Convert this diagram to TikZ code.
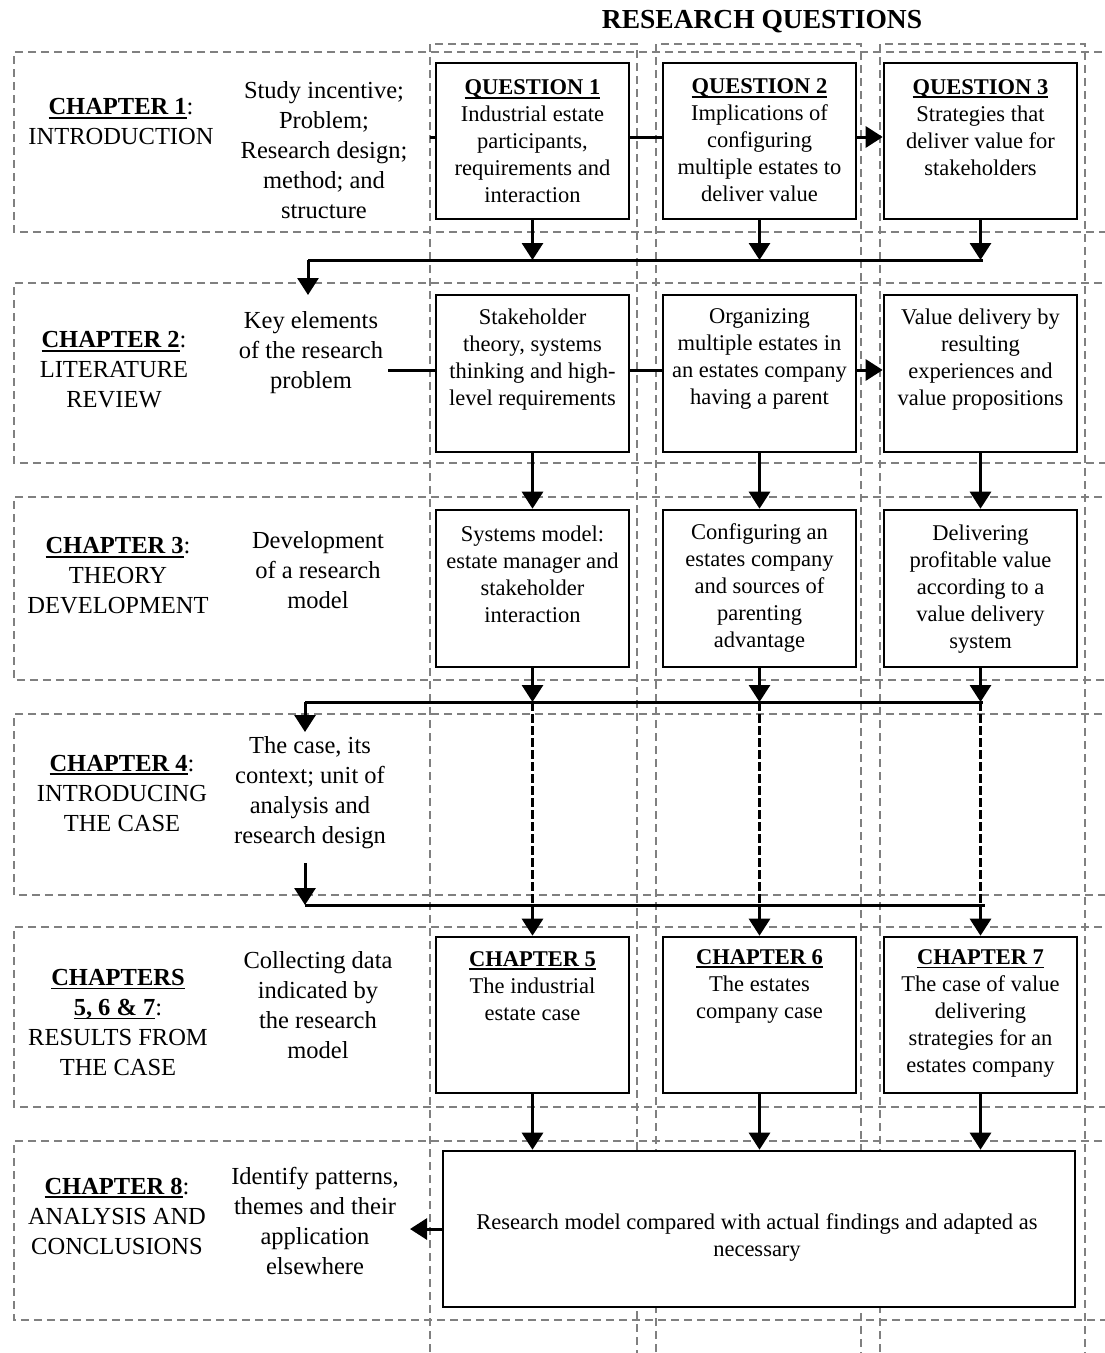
\documentclass[tikz,border=0pt]{standalone}
\usepackage{fontspec}
\setmainfont{Liberation Serif}
\usetikzlibrary{arrows.meta}
% bold text with a firm underline
\newcommand{\ulb}[1]{\leavevmode\setbox0=\hbox{\bfseries #1}\rlap{\rule[-3.8pt]{\wd0}{1.7pt}}\box0}
\begin{document}
\begin{tikzpicture}[x=1pt,y=-1pt,
  lane/.style={draw=black!50, line width=1.7pt, dash pattern=on 8pt off 5pt},
  box/.style={draw, fill=white, line width=2.6pt, minimum width=193pt, inner sep=0pt},
  flow/.style={line width=3pt, -{Triangle[length=17pt,width=21pt]}},
  link/.style={line width=3pt},
  hint/.style={line width=3pt, dash pattern=on 9pt off 3pt},
  big/.style={font=\fontsize{24.5}{30}\selectfont, align=center},
  small/.style={font=\fontsize{22.5}{27}\selectfont, align=center},
  title/.style={font=\fontsize{27.5}{33}\selectfont\bfseries}
]
\useasboundingbox (0,0) rectangle (1105,1353);
\clip (0,0) rectangle (1105,1353);

% chapter bands
\foreach \t/\b in {52/232, 283/463, 497/680, 714/895, 927/1107, 1141/1320}{
  \draw[lane] (1115,\t) -- (14,\t) -- (14,\b) -- (1115,\b);
}
% research question columns
\foreach \l/\r in {430/637, 656/861, 880/1085}{
  \draw[lane] (\l,1365) -- (\l,44) -- (\r,44) -- (\r,1365);
}

\node[title] (rq) at (762,22) {RESEARCH QUESTIONS};

% ---- boxes
\node[box, minimum height=156pt] (q1) at (532.5,141) {};
\node[box, minimum height=156pt] (q2) at (759.5,141) {};
\node[box, minimum height=156pt] (q3) at (980.5,141) {};
\node[box, minimum height=157pt] (b2a) at (532.5,373.5) {};
\node[box, minimum height=157pt] (b2b) at (759.5,373.5) {};
\node[box, minimum height=157pt] (b2c) at (980.5,373.5) {};
\node[box, minimum height=157pt] (b3a) at (532.5,588.5) {};
\node[box, minimum height=157pt] (b3b) at (759.5,588.5) {};
\node[box, minimum height=157pt] (b3c) at (980.5,588.5) {};
\node[box, minimum height=156pt] (b5a) at (532.5,1015) {};
\node[box, minimum height=156pt] (b5b) at (759.5,1015) {};
\node[box, minimum height=156pt] (b5c) at (980.5,1015) {};
\node[box, minimum width=632pt, minimum height=156pt] (fin) at (759,1229) {};

% ---- chapter 1
\node[big] (c1) at (121,122) {\ulb{CHAPTER 1}:\\INTRODUCTION};
\node[big] (d1) at (324,150) {Study incentive;\\Problem;\\Research design;\\method; and\\structure};
\node[small] (t1a) at (532.5,141.5) {\ulb{QUESTION 1}\\Industrial estate\\participants,\\requirements and\\interaction};
\node[small] (t1b) at (759.5,140.5) {\ulb{QUESTION 2}\\Implications of\\configuring\\multiple estates to\\deliver value};
\node[small] (t1c) at (980.5,127.5) {\ulb{QUESTION 3}\\Strategies that\\deliver value for\\stakeholders};

% ---- chapter 2
\node[big] (c2) at (114,370) {\ulb{CHAPTER 2}:\\LITERATURE\\REVIEW};
\node[big] (d2) at (311,353) {Key elements\\of the research\\problem};
\node[small] (t2a) at (532.5,360) {Stakeholder\\theory, systems\\thinking and high-\\level requirements};
\node[small] (t2b) at (759.5,359) {Organizing\\multiple estates in\\an estates company\\having a parent};
\node[small] (t2c) at (980.5,360) {Value delivery by\\resulting\\experiences and\\value propositions};

% ---- chapter 3
\node[big] (c3) at (118,576) {\ulb{CHAPTER 3}:\\THEORY\\DEVELOPMENT};
\node[big] (d3) at (318,570) {Development\\of a research\\model};
\node[small] (t3a) at (532.5,574) {Systems model:\\estate manager and\\stakeholder\\interaction};
\node[small] (t3b) at (759.5,587.5) {Configuring an\\estates company\\and sources of\\parenting\\advantage};
\node[small] (t3c) at (980.5,589) {Delivering\\profitable value\\according to a\\value delivery\\system};

% ---- chapter 4
\node[big] (c4) at (122,793) {\ulb{CHAPTER 4}:\\INTRODUCING\\THE CASE};
\node[big] (d4) at (310,793) {The case, its\\context; unit of\\analysis and\\research design};

% ---- chapters 5, 6 & 7
\node[big] (c5) at (118,1022.5) {\ulb{CHAPTERS}\\\ulb{5, 6 \& 7}:\\RESULTS FROM\\THE CASE};
\node[big] (d5) at (318,1005.5) {Collecting data\\indicated by\\the research\\model};
\node[small] (t5a) at (532.5,986) {\ulb{CHAPTER 5}\\The industrial\\estate case};
\node[small] (t5b) at (759.5,986) {\ulb{CHAPTER 6}\\The estates\\company case};
\node[small] (t5c) at (980.5,1013.5) {\ulb{CHAPTER 7}\\The case of value\\delivering\\strategies for an\\estates company};

% ---- chapter 8
\node[big] (c6) at (117,1216) {\ulb{CHAPTER 8}:\\ANALYSIS AND\\CONCLUSIONS};
\node[big] (d6) at (315,1221) {Identify patterns,\\themes and their\\application\\elsewhere};
\node[small] (t6) at (757,1237) {Research model compared with actual findings and adapted as\\necessary};

% ---- connectors: row 1
\coordinate (s1) at (430,137);
\draw[link] (s1) -- (s1 -| q1.west);
\draw[link] (s1 -| q1.east) -- (s1 -| q2.west);
\draw[flow] (s1 -| q2.east) -- (s1 -| q3.west);
\coordinate (j1) at (308,260);
\coordinate (j1e) at (983,260);
\coordinate (e2) at (308,295);
\foreach \n in {q1,q2,q3} \draw[flow] (\n.south) -- (\n.south |- j1);
\draw[link] (j1) -- (j1e);
\draw[flow] (j1) -- (e2);

% row 2
\coordinate (s2) at (388,370);
\draw[link] (s2) -- (s2 -| b2a.west);
\draw[link] (s2 -| b2a.east) -- (s2 -| b2b.west);
\draw[flow] (s2 -| b2b.east) -- (s2 -| b2c.west);
\draw[flow] (b2a.south) -- (b3a.north);
\draw[flow] (b2b.south) -- (b3b.north);
\draw[flow] (b2c.south) -- (b3c.north);

% row 3 to the case and on to the results
\coordinate (j3) at (305,702);
\coordinate (j3e) at (983,702);
\coordinate (e4) at (305,732);
\coordinate (k4) at (305,863);
\coordinate (j4) at (305,905);
\coordinate (j4e) at (985,905);
\foreach \n in {b3a,b3b,b3c} \draw[flow] (\n.south) -- (\n.south |- j3);
\draw[link] (j3) -- (j3e);
\draw[flow] (j3) -- (e4);
\foreach \n in {b3a,b3b,b3c} \draw[hint] (\n.south |- j3) -- (\n.south |- j4);
\draw[flow] (k4) -- (j4);
\draw[link] (j4) -- (j4e);
\foreach \n in {b5a,b5b,b5c} \draw[flow] (\n.north |- j4) -- (\n.north);

% results to the analysis
\foreach \n in {b5a,b5b,b5c} \draw[flow] (\n.south) -- (\n.south |- fin.north);
\coordinate (e6) at (410,1229);
\draw[flow] (fin.west) -- (e6);
\end{tikzpicture}
\end{document}
